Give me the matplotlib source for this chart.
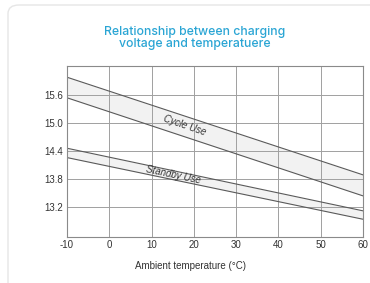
import matplotlib
matplotlib.use("Agg")
import matplotlib.pyplot as plt
from matplotlib.patches import FancyBboxPatch

temps = [-10, 60]
cycle_upper = [15.98, 13.89]
cycle_lower = [15.54, 13.44]
standby_upper = [14.46, 13.12]
standby_lower = [14.26, 12.94]

x_ticks = [-10, 0, 10, 20, 30, 40, 50, 60]
y_ticks = [13.2, 13.8, 14.4, 15.0, 15.6]
y_labels = ["13.2", "13.8", "14.4", "15.0", "15.6"]

fig = plt.figure(figsize=(3.70, 2.83), dpi=100)
fig.patch.set_facecolor("white")

# card outline
card = FancyBboxPatch((8 / 370, -0.05), 1.2, 1 - 5 / 283 + 0.05,
                      boxstyle="round,pad=0,rounding_size=0.03",
                      transform=fig.transFigure, facecolor="white",
                      edgecolor="#e6e6e6", linewidth=1.0, zorder=-10)
fig.patches.append(card)

ax = fig.add_axes([67 / 370, 1 - 237 / 283, 296 / 370, 171 / 283])
ax.set_xlim(-10, 60)
ax.set_ylim(12.56, 16.22)

ax.fill_between(temps, cycle_lower, cycle_upper, color="#f2f2f2", lw=0, zorder=0.2)
ax.fill_between(temps, standby_lower, standby_upper, color="#f2f2f2", lw=0, zorder=0.2)
for ys in [cycle_upper, cycle_lower, standby_upper, standby_lower]:
    ax.plot(temps, ys, color="#5a5a5a", lw=0.8)

ax.text(17.7, 14.94, "Cycle Use", rotation=-19, fontsize=7,
        ha="center", va="center", style="italic", color="#333333",
        family="Liberation Sans")
ax.text(15.1, 13.89, "Standby Use", rotation=-12, fontsize=7,
        ha="center", va="center", style="italic", color="#333333",
        family="Liberation Sans")

ax.set_xticks(x_ticks)
ax.set_xticklabels([str(t) for t in x_ticks])
ax.set_yticks(y_ticks)
ax.set_yticklabels(y_labels)
ax.grid(True, color="#a0a0a0", lw=0.7)
ax.set_axisbelow(True)
ax.tick_params(length=0, labelsize=7, colors="#333333", pad=2.5)
for lab in ax.get_xticklabels() + ax.get_yticklabels():
    lab.set_family("Liberation Sans")
for s in ax.spines.values():
    s.set_color("#8a8a8a")
    s.set_linewidth(0.8)

fig.text(191 / 370, 1 - 266 / 283, "Ambient temperature (°C)", fontsize=7,
         color="#333333", ha="center", va="center", family="Liberation Sans")

fig.text(195 / 370, 1 - 38 / 283,
         "Relationship between charging\nvoltage and temperatuere",
         ha="center", va="center", fontsize=8.8, color="#2aa5d4",
         family="Inter", fontweight="medium", linespacing=1.05)

fig.savefig("out.png", dpi=100)
